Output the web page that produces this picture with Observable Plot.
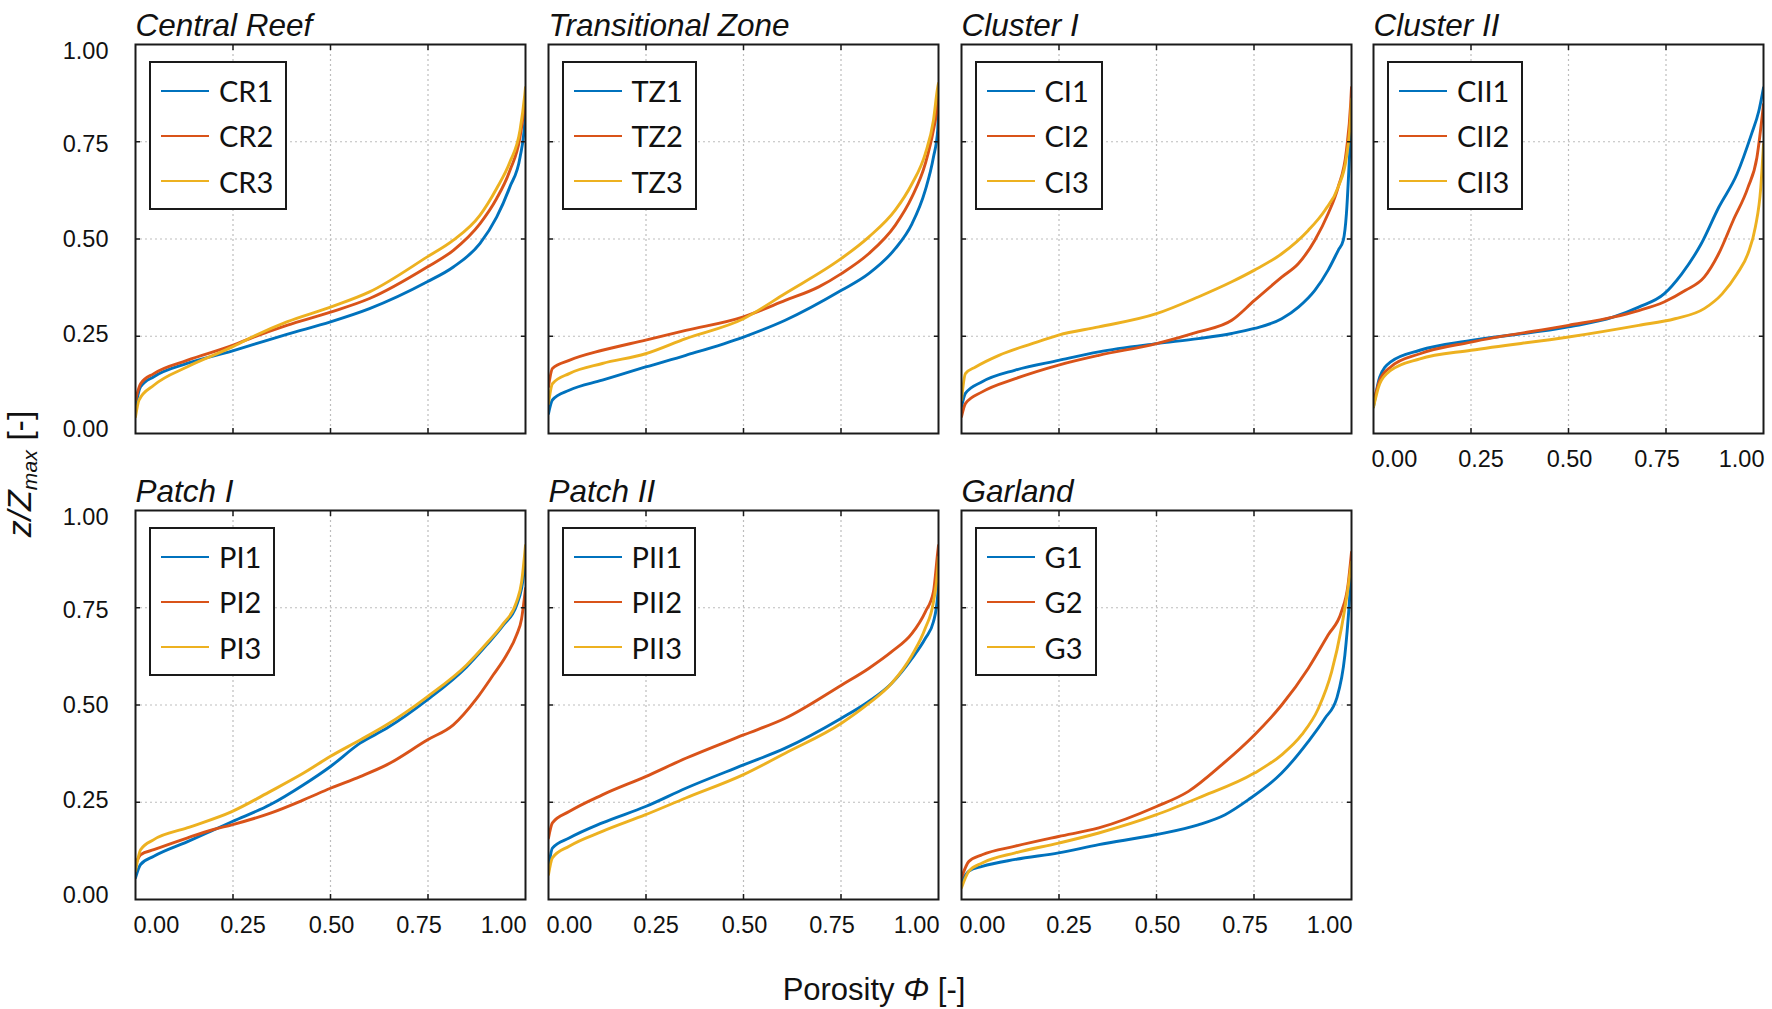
<!DOCTYPE html>
<html>
<head>
<meta charset="utf-8">
<script src="https://cdn.jsdelivr.net/npm/d3@7"></script>
<script src="https://cdn.jsdelivr.net/npm/@observablehq/plot@0.6"></script>
<style>
  body { margin: 0; background: #fff; overflow: hidden; }
  #fig { position: relative; width: 1772px; height: 1009px; background: #fff; font-family: "Liberation Sans", Arial, sans-serif; color: #111; }
  #fig svg { position: absolute; }
  .legend { position: absolute; box-sizing: border-box; height: 149px; border: 2px solid #1a1a1a; background: #fff; padding: 5px 12px 8px 10px; }
  .legend .row { display: flex; align-items: center; height: 45.3px; }
  .legend .sw { width: 48px; height: 0; border-top: 2.5px solid; margin-right: 10px; }
  .legend .lab { font: 29px Lato, "Noto Sans", sans-serif; color: #111; line-height: 1; }
  .ylab { position: absolute; width: 240px; text-align: center; font-size: 34px; line-height: 1; transform: rotate(-90deg); }
  .ylab sub { font-size: 0.62em; vertical-align: -0.28em; }
  .xlab { position: absolute; width: 400px; text-align: center; font-size: 31px; line-height: 1; }
</style>
</head>
<body>
<div id="fig"></div>
<script>
// porosity profiles, [phi, z/Zmax]
const CR1 = [[0,0.07],[0.013,0.12],[0.047,0.146],[0.132,0.18],[0.247,0.212],[0.303,0.229],[0.388,0.255],[0.5,0.287],[0.6,0.321],[0.748,0.39],[0.815,0.428],[0.883,0.488],[0.926,0.556],[0.96,0.634],[0.986,0.71],[0.998,0.8],[1,0.86]];
const CR2 = [[0,0.086],[0.013,0.128],[0.047,0.154],[0.132,0.188],[0.247,0.226],[0.303,0.248],[0.388,0.278],[0.5,0.312],[0.6,0.347],[0.748,0.428],[0.815,0.471],[0.883,0.539],[0.926,0.604],[0.96,0.676],[0.986,0.762],[0.998,0.85],[1,0.87]];
const CR3 = [[0,0.043],[0.009,0.086],[0.047,0.124],[0.132,0.171],[0.247,0.222],[0.303,0.25],[0.388,0.287],[0.5,0.325],[0.6,0.364],[0.748,0.454],[0.815,0.497],[0.883,0.561],[0.926,0.63],[0.96,0.698],[0.986,0.78],[0.998,0.87],[1,0.89]];

const TZ1 = [[0,0.051],[0.01,0.086],[0.053,0.111],[0.138,0.137],[0.249,0.171],[0.352,0.201],[0.5,0.248],[0.607,0.291],[0.751,0.368],[0.821,0.411],[0.889,0.475],[0.932,0.539],[0.966,0.625],[0.987,0.71],[0.998,0.78],[1,0.84]];
const TZ2 = [[0,0.12],[0.01,0.167],[0.053,0.188],[0.138,0.214],[0.249,0.24],[0.352,0.265],[0.5,0.3],[0.607,0.342],[0.693,0.377],[0.751,0.411],[0.821,0.462],[0.889,0.535],[0.932,0.608],[0.966,0.693],[0.987,0.78],[0.998,0.848],[1,0.87]];
const TZ3 = [[0,0.077],[0.01,0.128],[0.053,0.154],[0.138,0.18],[0.249,0.205],[0.352,0.244],[0.5,0.295],[0.607,0.36],[0.751,0.45],[0.821,0.505],[0.889,0.574],[0.932,0.642],[0.966,0.719],[0.987,0.805],[0.998,0.89],[1,0.9]];

const CI1 = [[0,0.068],[0.01,0.103],[0.053,0.133],[0.138,0.163],[0.249,0.188],[0.352,0.21],[0.5,0.231],[0.607,0.244],[0.693,0.257],[0.751,0.27],[0.821,0.295],[0.864,0.325],[0.906,0.368],[0.94,0.42],[0.966,0.471],[0.979,0.497],[0.987,0.565],[0.994,0.693],[0.998,0.78],[1,0.85]];
const CI2 = [[0,0.043],[0.01,0.077],[0.053,0.107],[0.138,0.141],[0.249,0.176],[0.352,0.201],[0.5,0.231],[0.607,0.261],[0.693,0.291],[0.751,0.342],[0.821,0.402],[0.864,0.437],[0.906,0.497],[0.94,0.565],[0.966,0.634],[0.987,0.728],[0.998,0.85],[1,0.89]];
const CI3 = [[0,0.086],[0.01,0.154],[0.036,0.171],[0.096,0.201],[0.181,0.231],[0.249,0.253],[0.352,0.274],[0.5,0.308],[0.607,0.351],[0.693,0.39],[0.751,0.42],[0.821,0.462],[0.889,0.522],[0.932,0.574],[0.966,0.634],[0.987,0.71],[0.998,0.82],[1,0.86]];

const CII1 = [[0,0.068],[0.016,0.145],[0.044,0.184],[0.119,0.214],[0.25,0.239],[0.5,0.274],[0.614,0.299],[0.68,0.325],[0.745,0.359],[0.79,0.41],[0.84,0.487],[0.885,0.581],[0.932,0.667],[0.969,0.769],[0.988,0.829],[1,0.889]];
const CII2 = [[0,0.077],[0.016,0.137],[0.044,0.171],[0.119,0.205],[0.25,0.235],[0.5,0.278],[0.614,0.299],[0.68,0.316],[0.745,0.338],[0.8,0.368],[0.848,0.402],[0.885,0.462],[0.922,0.547],[0.96,0.632],[0.983,0.709],[1,0.846]];
const CII3 = [[0,0.068],[0.016,0.128],[0.044,0.162],[0.119,0.192],[0.25,0.214],[0.5,0.248],[0.68,0.278],[0.773,0.295],[0.848,0.321],[0.894,0.359],[0.932,0.41],[0.96,0.462],[0.979,0.53],[0.993,0.632],[1,0.744]];

const PI1 = [[0,0.056],[0.013,0.09],[0.047,0.111],[0.132,0.148],[0.192,0.175],[0.247,0.2],[0.346,0.244],[0.431,0.295],[0.5,0.342],[0.576,0.402],[0.644,0.44],[0.748,0.513],[0.849,0.598],[0.9,0.654],[0.943,0.705],[0.977,0.756],[0.99,0.8],[1,0.87]];
const PI2 = [[0,0.09],[0.013,0.115],[0.047,0.128],[0.132,0.158],[0.2,0.18],[0.247,0.192],[0.346,0.222],[0.431,0.256],[0.5,0.286],[0.576,0.316],[0.644,0.346],[0.748,0.41],[0.815,0.449],[0.875,0.517],[0.917,0.577],[0.951,0.628],[0.977,0.68],[0.99,0.722],[1,0.8]];
const PI3 = [[0,0.073],[0.013,0.128],[0.047,0.154],[0.132,0.184],[0.247,0.226],[0.346,0.278],[0.431,0.325],[0.5,0.368],[0.576,0.41],[0.644,0.449],[0.748,0.521],[0.849,0.603],[0.9,0.658],[0.943,0.709],[0.977,0.765],[0.99,0.816],[1,0.91]];

const PII1 = [[0,0.081],[0.01,0.132],[0.053,0.158],[0.138,0.197],[0.249,0.239],[0.352,0.286],[0.5,0.346],[0.607,0.389],[0.751,0.466],[0.821,0.509],[0.88,0.556],[0.932,0.62],[0.966,0.671],[0.987,0.714],[0.998,0.782],[1,0.83]];
const PII2 = [[0,0.158],[0.01,0.197],[0.053,0.226],[0.138,0.269],[0.249,0.316],[0.352,0.363],[0.5,0.423],[0.607,0.466],[0.751,0.551],[0.821,0.594],[0.88,0.637],[0.932,0.684],[0.966,0.739],[0.987,0.791],[0.998,0.893],[1,0.91]];
const PII3 = [[0,0.064],[0.01,0.107],[0.053,0.137],[0.138,0.175],[0.249,0.218],[0.352,0.261],[0.5,0.321],[0.607,0.376],[0.751,0.453],[0.821,0.504],[0.88,0.556],[0.932,0.628],[0.966,0.697],[0.987,0.765],[0.998,0.85],[1,0.88]];

const G1 = [[0,0.047],[0.019,0.073],[0.053,0.085],[0.138,0.103],[0.249,0.12],[0.352,0.141],[0.5,0.167],[0.607,0.192],[0.676,0.218],[0.735,0.256],[0.821,0.325],[0.889,0.406],[0.932,0.466],[0.962,0.517],[0.983,0.628],[0.994,0.756],[1,0.85]];
const G2 = [[0,0.056],[0.019,0.098],[0.053,0.115],[0.138,0.137],[0.249,0.162],[0.352,0.184],[0.5,0.239],[0.582,0.278],[0.667,0.346],[0.751,0.423],[0.821,0.5],[0.889,0.594],[0.94,0.68],[0.974,0.739],[0.991,0.808],[1,0.893]];
const G3 = [[0,0.03],[0.019,0.073],[0.053,0.094],[0.138,0.12],[0.249,0.145],[0.352,0.171],[0.5,0.218],[0.607,0.261],[0.751,0.325],[0.821,0.372],[0.872,0.423],[0.915,0.491],[0.949,0.585],[0.974,0.697],[0.991,0.8],[1,0.868]];

const tickValues = [0, 0.25, 0.5, 0.75, 1];
const gridTicks = [0.25, 0.5, 0.75];
const seriesColors = ["#0072BD", "#D95319", "#EDB120"];

const panels = [
  {title: "Central Reef", names: ["CR1", "CR2", "CR3"], curves: [CR1, CR2, CR3], col: 0, row: 0, xLab: false, yLab: true},
  {title: "Transitional Zone", names: ["TZ1", "TZ2", "TZ3"], curves: [TZ1, TZ2, TZ3], col: 1, row: 0, xLab: false, yLab: false},
  {title: "Cluster I", names: ["CI1", "CI2", "CI3"], curves: [CI1, CI2, CI3], col: 2, row: 0, xLab: false, yLab: false},
  {title: "Cluster II", names: ["CII1", "CII2", "CII3"], curves: [CII1, CII2, CII3], col: 3, row: 0, xLab: true, yLab: false},
  {title: "Patch I", names: ["PI1", "PI2", "PI3"], curves: [PI1, PI2, PI3], col: 0, row: 1, xLab: true, yLab: true},
  {title: "Patch II", names: ["PII1", "PII2", "PII3"], curves: [PII1, PII2, PII3], col: 1, row: 1, xLab: true, yLab: false},
  {title: "Garland", names: ["G1", "G2", "G3"], curves: [G1, G2, G3], col: 2, row: 1, xLab: true, yLab: false}
];

// layout (px)
const colLeft = [135, 547.5, 960.5, 1373];
const rowTop = [44, 510];
const FW = 390, FH = 389;
const ML = 110, MR = 12, MT = 50, MB = 50;
// the original nudges its edge tick labels inwards
const xLabelStyle = [
  {textAnchor: "start", dx: -2},
  {textAnchor: "middle", dx: 10},
  {textAnchor: "middle", dx: 1},
  {textAnchor: "middle", dx: -9},
  {textAnchor: "end", dx: 1}
];
const yLabelDy = [-4, -2, 0, 3, 7];

const fig = document.getElementById("fig");
const fmt = d3.format(".2f");

panels.forEach(p => {
  const rows = p.names.flatMap((n, i) => p.curves[i].map(([phi, z]) => ({series: n, phi, z})));
  const gridStyle = {stroke: "#bdbdbd", strokeOpacity: 1, strokeWidth: 1.2, strokeDasharray: "2,3"};
  const tickStyle = {tickSize: -5, tickFormat: () => "", label: null, stroke: "#1a1a1a", strokeWidth: 1.5};

  const marks = [
    Plot.gridX(gridTicks, gridStyle),
    Plot.gridY(gridTicks, gridStyle),
    Plot.line(rows, {x: "phi", y: "z", z: "series", stroke: "series", strokeWidth: 2.9, curve: "monotone-x", clip: true}),
    Plot.frame({stroke: "#1a1a1a", strokeWidth: 2}),
    Plot.axisX(gridTicks, {anchor: "bottom", ...tickStyle}),
    Plot.axisX(gridTicks, {anchor: "top", ...tickStyle}),
    Plot.axisY(gridTicks, {anchor: "left", ...tickStyle}),
    Plot.axisY(gridTicks, {anchor: "right", ...tickStyle}),
    Plot.text([p.title], {frameAnchor: "top-left", textAnchor: "start", lineAnchor: "bottom", dy: -9, fontSize: 31.5, fontStyle: "italic", fill: "#111"})
  ];
  if (p.xLab) {
    tickValues.forEach((t, i) => marks.push(
      Plot.text([t], {x: d => d, frameAnchor: "bottom", lineAnchor: "top", dy: 17, text: fmt, fontSize: 23.5, fill: "#111", ...xLabelStyle[i]})
    ));
  }
  if (p.yLab) {
    tickValues.forEach((t, i) => marks.push(
      Plot.text([t], {y: d => d, frameAnchor: "left", textAnchor: "end", lineAnchor: "middle", dx: -27, dy: yLabelDy[i], text: fmt, fontSize: 23.5, fill: "#111"})
    ));
  }

  const chart = Plot.plot({
    width: ML + FW + MR,
    height: MT + FH + MB,
    marginLeft: ML, marginRight: MR, marginTop: MT, marginBottom: MB,
    x: {domain: [0, 1], axis: null},
    y: {domain: [0, 1], axis: null},
    color: {domain: p.names, range: seriesColors},
    style: {background: "transparent", overflow: "visible", fontFamily: "Liberation Sans, Arial, sans-serif"},
    marks
  });
  chart.style.left = (colLeft[p.col] - ML) + "px";
  chart.style.top = (rowTop[p.row] - MT) + "px";
  fig.appendChild(chart);

  const lg = document.createElement("div");
  lg.className = "legend";
  lg.style.left = (colLeft[p.col] + 14) + "px";
  lg.style.top = (rowTop[p.row] + 17) + "px";
  lg.innerHTML = p.names.map((n, i) =>
    `<div class="row"><span class="sw" style="border-top-color:${seriesColors[i]}"></span><span class="lab">${n}</span></div>`
  ).join("");
  fig.appendChild(lg);
});

const ylab = document.createElement("div");
ylab.className = "ylab";
ylab.innerHTML = "<i>z/Z<sub>max</sub></i> [-]";
ylab.style.left = (21 - 120) + "px";
ylab.style.top = (472 - 17) + "px";
fig.appendChild(ylab);

const xlab = document.createElement("div");
xlab.className = "xlab";
xlab.innerHTML = "Porosity <i>Φ</i> [-]";
xlab.style.left = (874 - 200) + "px";
xlab.style.top = "974px";
fig.appendChild(xlab);
</script>
</body>
</html>
